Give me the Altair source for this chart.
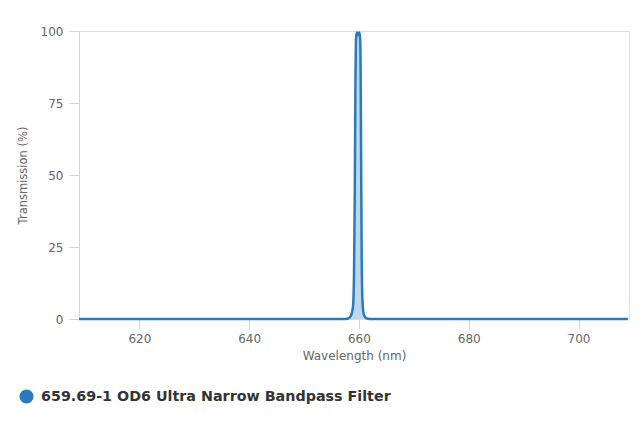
import altair as alt
import pandas as pd

wavelength = [609.0, 657.2, 658.0, 658.5, 658.9, 659.1, 659.25, 659.35, 659.45, 659.6,
              659.75, 659.9, 660.05, 660.2, 660.3, 660.4, 660.5, 660.65, 660.9, 661.3,
              662.0, 709.0]
transmission = [0.0, 0.0, 0.2, 1.0, 4.0, 15.0, 45.0, 80.0, 97.0, 99.5,
                98.5, 99.0, 99.5, 98.0, 88.0, 55.0, 22.0, 6.0, 1.5, 0.3,
                0.0, 0.0]
series = "659.69-1 OD6 Ultra Narrow Bandpass Filter"
x_ticks = [620, 640, 660, 680, 700]
y_ticks = [0, 25, 50, 75, 100]

df = pd.DataFrame({"Wavelength": wavelength, "Transmission": transmission, "Series": series})

blue = "#2b7bba"
color = alt.Color(
    "Series:N",
    scale=alt.Scale(range=[blue]),
    legend=alt.Legend(
        title=None,
        orient="none",
        legendX=-60,
        legendY=358,
        symbolType="circle",
        symbolSize=200,
        symbolOpacity=1,
        symbolStrokeWidth=0,
        symbolFillColor=blue,
        labelFont="DejaVu Sans",
        labelFontSize=14.3,
        labelFontWeight="bold",
        labelColor="#333333",
        labelOffset=7,
        labelLimit=0,
    ),
)

x = alt.X(
    "Wavelength:Q",
    scale=alt.Scale(domain=[609, 709.2], nice=False, zero=False),
    axis=alt.Axis(
        title="Wavelength (nm)",
        values=x_ticks,
        grid=False,
        domain=False,
        tickColor="#ccd6eb",
        tickSize=10,
        labelPadding=4,
        labelFont="DejaVu Sans",
        labelFontSize=12,
        labelColor="#666666",
        titleFont="DejaVu Sans",
        titleFontSize=12,
        titleFontWeight="normal",
        titleColor="#666666",
        titlePadding=6,
    ),
)
y = alt.Y(
    "Transmission:Q",
    scale=alt.Scale(domain=[0, 100], nice=False),
    axis=alt.Axis(
        title="Transmission (%)",
        values=y_ticks,
        grid=False,
        domainColor="#ccd6eb",
        tickColor="#ccd6eb",
        tickSize=10,
        labelPadding=6,
        labelFont="DejaVu Sans",
        labelFontSize=12,
        labelColor="#666666",
        titleFont="DejaVu Sans",
        titleFontSize=11.5,
        titleFontWeight="normal",
        titleColor="#666666",
        titlePadding=12,
    ),
)

area = alt.Chart(df).mark_area(color=blue, fillOpacity=0.3, interpolate="monotone").encode(x=x, y=y)
line = alt.Chart(df).mark_line(strokeWidth=2.5, interpolate="monotone").encode(x=x, y=y, color=color)

chart = (
    alt.layer(area, line)
    .properties(width=550, height=288, autosize=alt.AutoSizeParams(type="none"),
                padding={"left": 71, "top": 23, "right": 3, "bottom": 100})
    .configure_view(stroke="#cccccc", strokeWidth=1)
    .configure(background="white")
)

chart.save("out.html", embed_options={"renderer": "svg", "actions": False})
